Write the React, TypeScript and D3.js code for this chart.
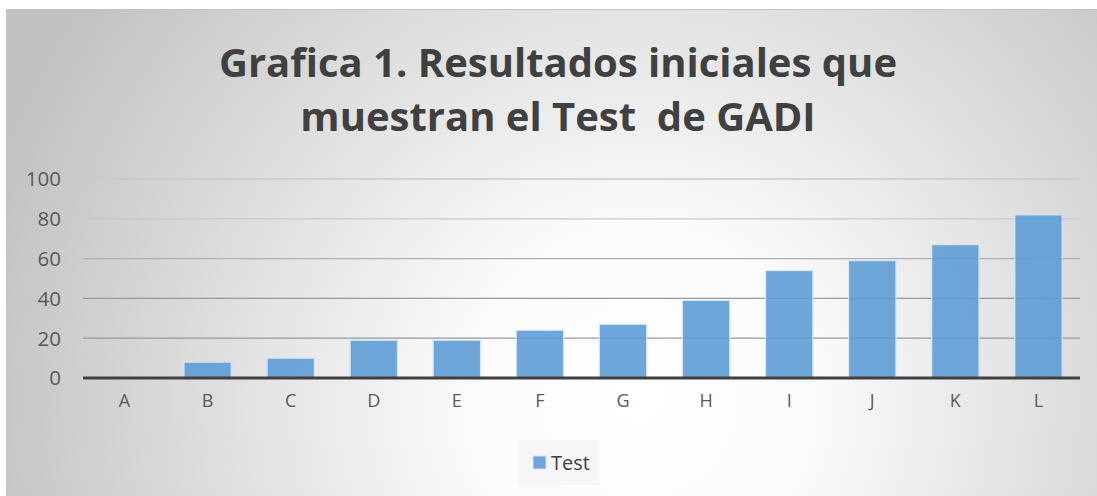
import React, { useEffect, useRef } from 'react';
import * as d3 from 'd3';

const categories = ['A', 'B', 'C', 'D', 'E', 'F', 'G', 'H', 'I', 'J', 'K', 'L'];
const testValues = [0, 8, 10, 19, 19, 24, 27, 39, 54, 59, 67, 82];
const yTicks = [0, 20, 40, 60, 80, 100];
const titleLines = ['Grafica 1. Resultados iniciales que', 'muestran el Test  de GADI'];
const seriesName = 'Test';

export default function App() {
  const svgRef = useRef<SVGSVGElement>(null);

  useEffect(() => {
    if (!svgRef.current) return;
    const width = 1097;
    const height = 496;
    const margin = { top: 179, right: 17, bottom: 118, left: 83 };
    const innerWidth = width - margin.left - margin.right;
    const innerHeight = height - margin.top - margin.bottom;

    const svg = d3.select(svgRef.current);
    svg.selectAll('*').remove();
    svg.attr('width', width).attr('height', height);

    // Background gradient, brightest near bottom centre
    const defs = svg.append('defs');
    const grad = defs.append('radialGradient')
      .attr('id', 'bg')
      .attr('gradientUnits', 'userSpaceOnUse')
      .attr('cx', 640).attr('cy', 400).attr('r', 680);
    grad.append('stop').attr('offset', '0%').attr('stop-color', '#ffffff');
    grad.append('stop').attr('offset', '25%').attr('stop-color', '#fbfbfb');
    grad.append('stop').attr('offset', '100%').attr('stop-color', '#c2c2c2');

    svg.append('rect')
      .attr('x', 6.5).attr('y', 9.5)
      .attr('width', width - 6).attr('height', height - 9)
      .attr('fill', 'url(#bg)')
      .attr('stroke', '#c4c4c4')
      .attr('stroke-width', 1);

    const font = "'Open Sans', 'Liberation Sans', sans-serif";

    // Title
    svg.append('g').selectAll('text')
      .data(titleLines)
      .join('text')
      .attr('x', 558)
      .attr('y', (d, i) => 77 + i * 54)
      .attr('text-anchor', 'middle')
      .attr('font-family', font)
      .attr('font-weight', 700)
      .attr('font-size', 40)
      .attr('fill', '#404040')
      .style('white-space', 'pre')
      .text(d => d);

    const g = svg.append('g').attr('transform', `translate(${margin.left},${margin.top})`);

    const x = d3.scaleBand<string>()
      .domain(categories)
      .range([0, innerWidth])
      .paddingInner(0.43)
      .paddingOuter(0.215);

    const y = d3.scaleLinear().domain([0, 100]).range([innerHeight, 0]);

    // Gridlines
    g.append('g').selectAll('line')
      .data(yTicks.filter(t => t > 0))
      .join('line')
      .attr('x1', 0).attr('x2', innerWidth)
      .attr('y1', d => y(d)).attr('y2', d => y(d))
      .attr('stroke', d => d >= 80 ? '#c8c8c8' : d === 60 ? '#b0b0b0' : '#999999')
      .attr('stroke-width', 1.3);

    // Y tick labels
    g.append('g').selectAll('text')
      .data(yTicks)
      .join('text')
      .attr('x', -22)
      .attr('y', d => y(d))
      .attr('dy', '0.36em')
      .attr('text-anchor', 'end')
      .attr('font-family', font)
      .attr('font-size', 20.5)
      .attr('fill', '#595959')
      .text(d => d);

    // Bars
    g.append('g').selectAll('rect')
      .data(testValues)
      .join('rect')
      .attr('x', (d, i) => x(categories[i])!)
      .attr('y', d => y(d))
      .attr('width', x.bandwidth())
      .attr('height', d => innerHeight - y(d))
      .attr('fill', '#5b9bd5')
      .attr('fill-opacity', 0.88)
      .attr('stroke', '#d6e6f5')
      .attr('stroke-width', 1.2);

    // Axis line
    g.append('line')
      .attr('x1', 0).attr('x2', innerWidth)
      .attr('y1', innerHeight).attr('y2', innerHeight)
      .attr('stroke', '#404040')
      .attr('stroke-width', 3);

    // X labels
    g.append('g').selectAll('text')
      .data(categories)
      .join('text')
      .attr('x', d => x(d)! + x.bandwidth() / 2)
      .attr('y', innerHeight + 29)
      .attr('text-anchor', 'middle')
      .attr('font-family', font)
      .attr('font-size', 18)
      .attr('fill', '#595959')
      .text(d => d);

    // Legend
    const lg = svg.append('g');
    lg.append('rect')
      .attr('x', 518).attr('y', 440).attr('width', 81).attr('height', 45)
      .attr('fill', '#f6f6f6');
    lg.append('rect')
      .attr('x', 533).attr('y', 456).attr('width', 13).attr('height', 13)
      .attr('fill', '#5b9bd5').attr('fill-opacity', 0.88)
      .attr('stroke', '#d6e6f5').attr('stroke-width', 1);
    lg.append('text')
      .attr('x', 551).attr('y', 470)
      .attr('font-family', font)
      .attr('font-size', 20)
      .attr('fill', '#404040')
      .text(seriesName);
  }, []);

  return (
    <div style={{ position: 'absolute', left: 0, top: 0 }}>
      <svg ref={svgRef} style={{ display: 'block' }} />
    </div>
  );
}
